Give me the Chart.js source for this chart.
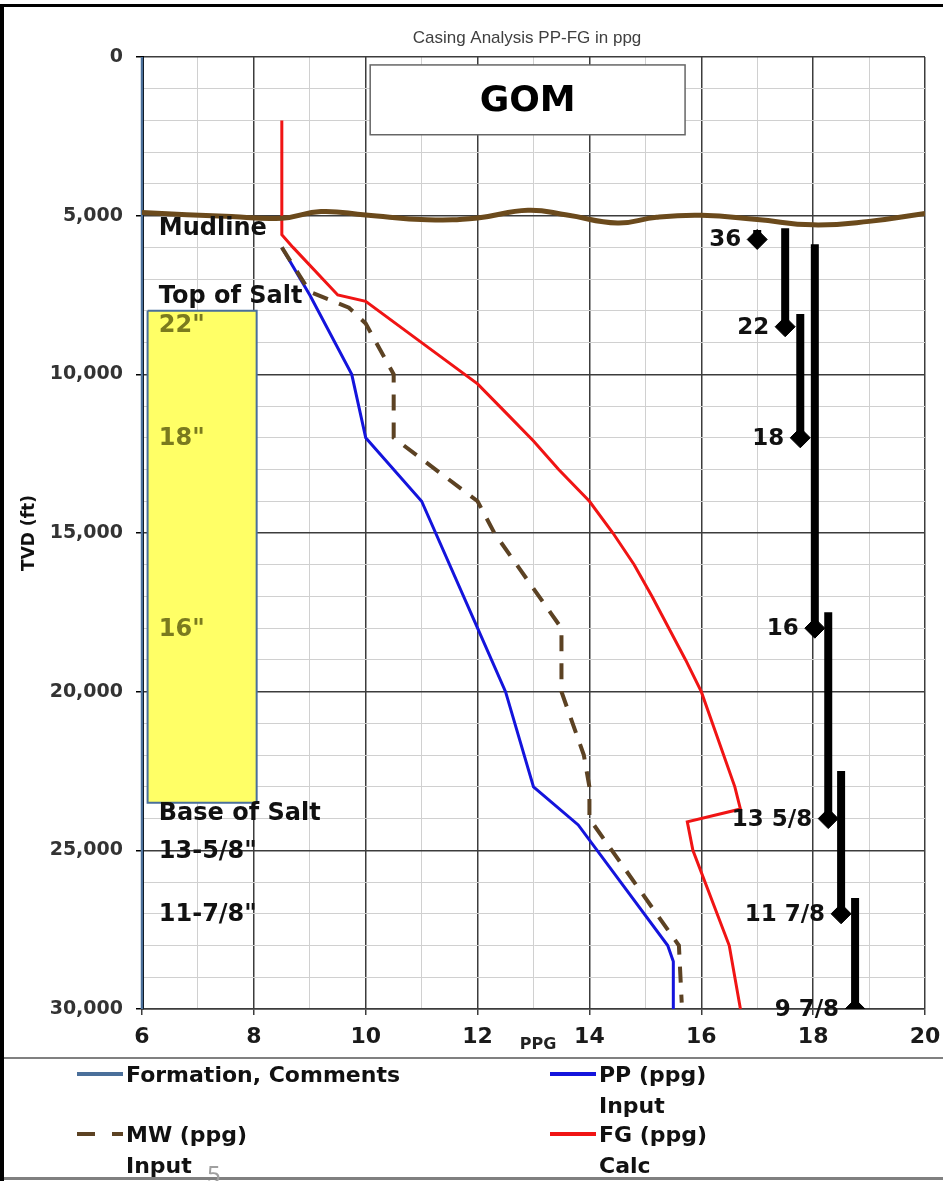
<!DOCTYPE html>
<html>
<head>
<meta charset="utf-8">
<title>Casing Analysis PP-FG in ppg</title>
<script src="https://cdn.jsdelivr.net/npm/chart.js@4.4.1/dist/chart.umd.min.js"></script>
<style>
  html, body { margin: 0; padding: 0; background: #fff; }
  #wrap { position: relative; width: 943px; height: 1181px; }
</style>
</head>
<body>
<div id="wrap"><canvas id="ppfgChart" width="943" height="1181"></canvas></div>
<script>
// ===== 데이터 (깊이 ft, 값 ppg) =====

// Pore pressure
const ppDepth = [6000, 7500, 10000, 12000, 14000, 18000, 20000, 23000, 24200, 28000, 28500, 30000];
const ppValue = [8.5, 9.0, 9.75, 10.0, 11.0, 12.0, 12.5, 13.0, 13.8, 15.4, 15.5, 15.5];

// Mud weight
const mwDepth = [6000, 7400, 7900, 8400, 10000, 12000, 14000, 15000, 17500, 18000, 20000, 22000, 23000, 24000, 28000, 29800];
const mwValue = [8.5, 9.0, 9.7, 10.0, 10.5, 10.5, 12.0, 12.3, 13.3, 13.5, 13.5, 13.9, 14.0, 14.0, 15.6, 15.65];

// Fracture gradient
const fgDepth = [2000, 5600, 6000, 7500, 7700, 9000, 10300, 11200, 12100, 13000, 14000, 15000, 16000, 17000, 18000, 19000, 20000, 21500, 23000, 23700, 24100, 25000, 28000, 30000];
const fgValue = [8.5, 8.5, 8.7, 9.5, 10.0, 11.0, 12.0, 12.5, 13.0, 13.45, 14.0, 14.42, 14.8, 15.12, 15.42, 15.72, 16.0, 16.3, 16.6, 16.7, 15.75, 15.85, 16.5, 16.7];

// Formation line on the left edge
const formationDepth = [0, 30000];
const formationValue = [6, 6];

// Mudline (wavy sea floor)
const mudValue = [6, 7.6, 8.5, 9.2, 10.0, 11.1, 12.0, 12.9, 13.6, 14.5, 15.2, 16.0, 17.0, 18.0, 19.0, 20];
const mudDepth = [4900, 5030, 5080, 4870, 4980, 5130, 5070, 4830, 4980, 5230, 5050, 4990, 5120, 5290, 5180, 4930];

// Salt body
const saltValue = [6.1, 8.05, 8.05, 6.1, 6.1];
const saltDepth = [8000, 8000, 23500, 23500, 8000];

// Casing strings: size, plotted ppg column, top, shoe
const casingNames = ['36', '22', '18', '16', '13 5/8', '11 7/8', '9 7/8'];
const casingX = [17.0, 17.5, 17.77, 18.03, 18.27, 18.5, 18.75];
const casingTop = [5450, 5400, 8100, 5900, 17500, 22500, 26500];
const casingShoe = [5750, 8500, 12000, 18000, 24000, 27000, 30000];

// Formation comments
const formationNotes = ['Mudline', 'Top of Salt', 'Base of Salt', '13-5/8"', '11-7/8"'];
const formationNoteDepth = [5420, 7560, 23860, 25050, 27040];
const saltNotes = ['22"', '18"', '16"'];
const saltNoteDepth = [8480, 12040, 18060];

// Axis ticks
const xTickLabels = [6, 8, 10, 12, 14, 16, 18, 20];
const yTickLabels = [0, 5000, 10000, 15000, 20000, 25000, 30000];

// ===== 스타일 =====
const FONT = '"DejaVu Sans", sans-serif';
const NOTE_X = 6.3;
const pts = (xs, ys) => xs.map((v, i) => ({ x: v, y: ys[i] }));

const colors = {
  pp: '#1414dc',
  mw: '#5c4223',
  fg: '#f01414',
  formation: '#4a6f9a',
  mud: '#6b4a1c',
  salt: 'rgba(255,255,102,1)',
  olive: '#7a7a1e',
};

const datasets = [
  {
    label: 'Salt',
    data: pts(saltValue, saltDepth),
    showLine: true,
    fill: 'shape',
    backgroundColor: colors.salt,
    borderColor: colors.formation,
    borderWidth: 2,
    pointRadius: 0,
    tension: 0,
    order: 10,
  },
  {
    label: 'Formation, Comments',
    legendText: ['Formation, Comments'],
    data: pts(formationValue, formationDepth),
    showLine: true,
    borderColor: colors.formation,
    borderWidth: 2.5,
    pointRadius: 0,
    clip: 4,
    order: 9,
  },
  {
    label: 'PP (ppg) Input',
    legendText: ['PP (ppg)', 'Input'],
    data: pts(ppValue, ppDepth),
    showLine: true,
    borderColor: colors.pp,
    borderWidth: 3,
    pointRadius: 0,
    order: 6,
  },
  {
    label: 'MW (ppg) Input',
    legendText: ['MW (ppg)', 'Input'],
    data: pts(mwValue, mwDepth),
    showLine: true,
    borderColor: colors.mw,
    borderWidth: 4,
    borderDash: [16, 12],
    pointRadius: 0,
    order: 5,
  },
  {
    label: 'FG (ppg) Calc',
    legendText: ['FG (ppg)', 'Calc'],
    data: pts(fgValue, fgDepth),
    showLine: true,
    borderColor: colors.fg,
    borderWidth: 3,
    pointRadius: 0,
    order: 4,
  },
  {
    label: 'Mudline',
    data: pts(mudValue, mudDepth),
    showLine: true,
    borderColor: colors.mud,
    borderWidth: 5,
    tension: 0.45,
    pointRadius: 0,
    order: 2,
  },
];

casingNames.forEach((name, i) => {
  datasets.push({
    label: name + ' casing',
    data: [{ x: casingX[i], y: casingTop[i] }, { x: casingX[i], y: casingShoe[i] }],
    showLine: true,
    borderColor: '#000',
    borderWidth: 8,
    pointRadius: [0, 10],
    pointStyle: 'rectRot',
    pointBackgroundColor: '#000',
    pointBorderColor: '#000',
    pointBorderWidth: 1,
    clip: 0,
    order: 3,
  });
});

// 텍스트, 박스, 범례 그리기
const overlayPlugin = {
  id: 'overlay',
  afterDatasetsDraw(chart) {
    const { ctx, scales } = chart;
    const x = scales.x, y = scales.y;
    ctx.save();

    // GOM box
    const bx0 = x.getPixelForValue(10.08), bx1 = x.getPixelForValue(15.71);
    const by0 = y.getPixelForValue(250), by1 = y.getPixelForValue(2450);
    ctx.fillStyle = '#fff';
    ctx.fillRect(bx0, by0, bx1 - bx0, by1 - by0);
    ctx.strokeStyle = '#666';
    ctx.lineWidth = 1.5;
    ctx.strokeRect(bx0, by0, bx1 - bx0, by1 - by0);
    ctx.fillStyle = '#000';
    ctx.font = 'bold 36px ' + FONT;
    ctx.textAlign = 'center';
    ctx.textBaseline = 'middle';
    ctx.fillText('GOM', (bx0 + bx1) / 2, (by0 + by1) / 2 + 2);

    // formation comments
    ctx.textAlign = 'left';
    ctx.font = 'bold 24px ' + FONT;
    ctx.fillStyle = '#111';
    formationNotes.forEach((t, i) => {
      ctx.fillText(t, x.getPixelForValue(NOTE_X), y.getPixelForValue(formationNoteDepth[i]));
    });
    ctx.fillStyle = colors.olive;
    saltNotes.forEach((t, i) => {
      ctx.fillText(t, x.getPixelForValue(NOTE_X), y.getPixelForValue(saltNoteDepth[i]));
    });

    // casing sizes
    ctx.textAlign = 'right';
    ctx.font = 'bold 23px ' + FONT;
    ctx.fillStyle = '#111';
    casingNames.forEach((t, i) => {
      ctx.fillText(t, x.getPixelForValue(casingX[i]) - 16, y.getPixelForValue(casingShoe[i]) + 1);
    });
    ctx.restore();
  },
  afterDraw(chart) {
    const { ctx, chartArea, scales } = chart;
    ctx.save();

    // title
    ctx.fillStyle = '#404040';
    ctx.font = '17px "Liberation Sans", Arial, sans-serif';
    ctx.textAlign = 'center';
    ctx.textBaseline = 'middle';
    ctx.fillText('Casing Analysis PP-FG in ppg', 527, 38);

    // y axis title
    ctx.save();
    ctx.translate(30, (chartArea.top + chartArea.bottom) / 2);
    ctx.rotate(-Math.PI / 2);
    ctx.fillStyle = '#111';
    ctx.font = 'bold 17px ' + FONT;
    ctx.fillText('TVD (ft)', 0, 0);
    ctx.restore();

    // x axis unit
    ctx.font = 'bold 16px ' + FONT;
    ctx.fillStyle = '#222';
    ctx.fillText('PPG', scales.x.getPixelForValue(13.08), 1045);

    // frame
    ctx.fillStyle = '#000';
    ctx.fillRect(0, 4, 943, 3);
    ctx.fillRect(0, 4, 4, 1177);
    ctx.fillStyle = '#808080';
    ctx.fillRect(4, 1057, 939, 2);
    ctx.fillRect(4, 1177, 939, 3);

    // legend
    const items = [
      { ds: chart.data.datasets[1], x: 77, y: 1074 },
      { ds: chart.data.datasets[2], x: 550, y: 1074 },
      { ds: chart.data.datasets[3], x: 77, y: 1134 },
      { ds: chart.data.datasets[4], x: 550, y: 1134 },
    ];
    items.forEach(it => {
      ctx.save();
      ctx.strokeStyle = it.ds.borderColor;
      ctx.lineWidth = 4;
      ctx.setLineDash(it.ds.borderDash ? [18, 17] : []);
      ctx.beginPath();
      ctx.moveTo(it.x, it.y);
      ctx.lineTo(it.x + 46, it.y);
      ctx.stroke();
      ctx.restore();
      ctx.fillStyle = '#111';
      ctx.font = 'bold 22px ' + FONT;
      ctx.textAlign = 'left';
      it.ds.legendText.forEach((line, k) => {
        ctx.fillText(line, it.x + 49, it.y + 2 + k * 31);
      });
    });

    // page number
    ctx.fillStyle = '#a0a0a0';
    ctx.font = '24px "Noto Sans", sans-serif';
    ctx.textAlign = 'left';
    ctx.textBaseline = 'alphabetic';
    ctx.fillText('5', 207, 1183);
    ctx.restore();
  },
};

const isMajorX = v => xTickLabels.includes(v);
const isMajorY = v => yTickLabels.includes(v);

new Chart(document.getElementById('ppfgChart'), {
  type: 'scatter',
  data: { datasets },
  options: {
    responsive: false,
    animation: false,
    events: [],
    layout: { padding: { left: 0, top: 57, right: 18, bottom: 122 } },
    plugins: {
      legend: { display: false },
      tooltip: { enabled: false },
      title: { display: false },
    },
    scales: {
      x: {
        type: 'linear',
        min: 6,
        max: 20,
        ticks: {
          stepSize: 1,
          autoSkip: false,
          maxRotation: 0,
          padding: 9,
          color: '#1a1a1a',
          font: { family: FONT, size: 22, weight: 'bold' },
          callback: v => (isMajorX(v) ? String(v) : ''),
        },
        grid: {
          color: c => (isMajorX(c.tick.value) ? '#3c3c3c' : '#d0d0d0'),
          lineWidth: c => (isMajorX(c.tick.value) ? 1.5 : 1),
          tickColor: c => (isMajorX(c.tick.value) ? '#3c3c3c' : 'rgba(0,0,0,0)'),
          tickLength: 6,
        },
        border: { color: '#3c3c3c', width: 1.5 },
        afterFit: s => { s.height = 50; s.paddingLeft = 0; s.paddingRight = 0; },
      },
      y: {
        type: 'linear',
        reverse: true,
        min: 0,
        max: 30000,
        ticks: {
          stepSize: 1000,
          autoSkip: false,
          padding: 13,
          color: '#333',
          font: { family: FONT, size: 19, weight: 'bold' },
          callback: v => (isMajorY(v) ? v.toLocaleString('en-US') : ''),
        },
        grid: {
          color: c => (isMajorY(c.tick.value) ? '#3c3c3c' : '#d0d0d0'),
          lineWidth: c => (isMajorY(c.tick.value) ? 1.5 : 1),
          tickColor: c => (isMajorY(c.tick.value) ? '#000' : 'rgba(0,0,0,0)'),
          tickLength: 6,
        },
        border: { color: '#000', width: 3 },
        afterFit: s => { s.width = 142; },
      },
    },
  },
  plugins: [overlayPlugin],
});
</script>
</body>
</html>
